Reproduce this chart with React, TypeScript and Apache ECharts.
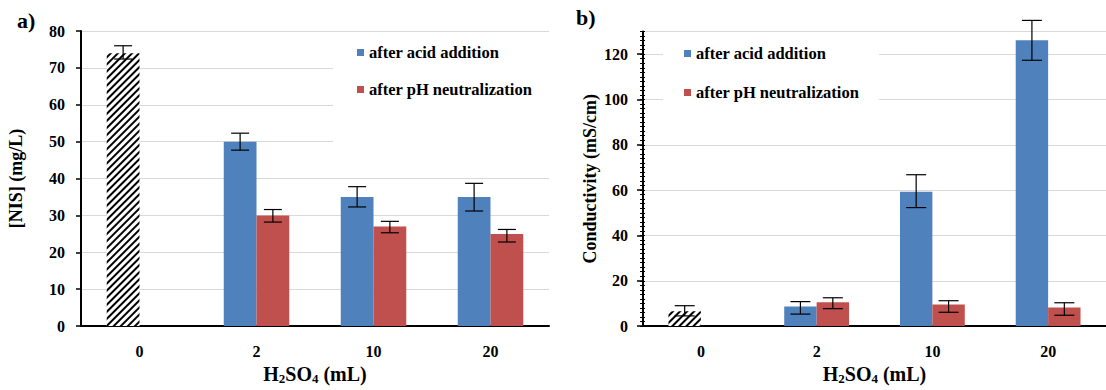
import React, { useEffect, useRef } from "react";
import * as echarts from "echarts";

const categories = ["0", "2", "10", "20"];
const seriesNames = ["after acid addition", "after pH neutralization"];

// Panel a) [NIS] (mg/L)
const nisAcid = [74, 50, 35, 35];
const nisNeutral: (number | null)[] = [null, 30, 27, 25];
const nisAcidErr: [number, number][] = [[72.4, 76.0], [47.7, 52.3], [32.3, 37.8], [31.2, 38.7]];
const nisNeutralErr: ([number, number] | null)[] = [null, [28.2, 31.6], [25.3, 28.4], [22.8, 26.2]];

// Panel b) Conductivity (mS/cm)
const condAcid = [6.5, 8.6, 59.3, 126.1];
const condNeutral: (number | null)[] = [null, 10.5, 9.5, 8.2];
const condAcidErr: [number, number][] = [[4.5, 9.0], [5.3, 10.8], [52.3, 66.8], [117.3, 134.9]];
const condNeutralErr: ([number, number] | null)[] = [null, [7.7, 12.5], [6.1, 11.2], [4.8, 10.3]];

const FONT = "'Liberation Serif', 'Times New Roman', serif";
const BLUE = "#4f81bd";
const RED = "#c0504d";

const hatch = {
  color: "#ffffff",
  decal: {
    symbol: "rect",
    symbolSize: 1,
    color: "#000000",
    dashArrayX: [1, 0],
    dashArrayY: [2, 2.3],
    rotation: -Math.PI / 4,
  },
};

function errData(a: ([number, number] | null)[], b: ([number, number] | null)[]) {
  const out: number[][] = [];
  a.forEach((e, i) => { if (e) out.push([i, e[0], e[1], 0]); });
  b.forEach((e, i) => { if (e) out.push([i, e[0], e[1], 1]); });
  return out;
}

function makeErr(capW: number) {
  return (_params: any, api: any) => {
    const cat = api.value(0);
    const lo = api.value(1);
    const hi = api.value(2);
    const s = api.value(3);
    const band = api.size([1, 0])[0];
    const off = (s === 0 ? -1 : 1) * band * 0.14;
    const pLo = api.coord([cat, lo]);
    const pHi = api.coord([cat, hi]);
    const x = pLo[0] + off;
    const style = { stroke: "#000", lineWidth: 1.2 };
    return {
      type: "group",
      children: [
        { type: "line", shape: { x1: x, y1: pLo[1], x2: x, y2: pHi[1] }, style },
        { type: "line", shape: { x1: x - capW / 2, y1: pHi[1], x2: x + capW / 2, y2: pHi[1] }, style },
        { type: "line", shape: { x1: x - capW / 2, y1: pLo[1], x2: x + capW / 2, y2: pLo[1] }, style },
      ],
    };
  };
}

const subName = "{a|H}{s|2}{a|SO}{s|4}{a| (mL)}";
const nameRich = {
  a: { fontFamily: FONT, fontWeight: "bold", fontSize: 20, color: "#000", lineHeight: 22 },
  s: { fontFamily: FONT, fontWeight: "bold", fontSize: 13, color: "#000", lineHeight: 10, verticalAlign: "bottom" },
};

function xAxis(grid: number) {
  return {
    type: "category",
    gridIndex: grid,
    data: categories,
    axisLine: { lineStyle: { color: "#000", width: 2 } },
    axisTick: { alignWithLabel: true, length: 5, lineStyle: { color: "#000", width: 1.5 } },
    axisLabel: { fontFamily: FONT, fontWeight: "bold", fontSize: 16, color: "#000", margin: 17 },
    name: subName,
    nameLocation: "middle",
    nameGap: 34,
    nameTextStyle: { rich: nameRich },
  };
}

const labelStyle = { fontFamily: FONT, fontWeight: "bold", fontSize: 16, color: "#000" };

export default function App() {
  const ref = useRef<HTMLDivElement>(null);
  useEffect(() => {
    if (!ref.current) return;
    const chart = echarts.init(ref.current, null, { renderer: "svg" });
    const legendText = { fontFamily: FONT, fontWeight: "bold", fontSize: 16.5, color: "#000" };
    chart.setOption({
      animation: false,
      title: [
        { text: "a)", left: 17, top: 9, padding: 0, textStyle: { fontFamily: FONT, fontWeight: "bold", fontSize: 22, color: "#000" } },
        { text: "b)", left: 576, top: 6, padding: 0, textStyle: { fontFamily: FONT, fontWeight: "bold", fontSize: 22, color: "#000" } },
      ],
      legend: [
        {
          data: seriesNames,
          orient: "vertical",
          left: 333,
          top: 32,
          padding: [12, 30, 45, 24],
          itemGap: 20,
          itemWidth: 7,
          itemHeight: 7,
          icon: "rect",
          backgroundColor: "#fff",
          textStyle: legendText,
        },
        {
          data: seriesNames,
          orient: "vertical",
          left: 663,
          top: 35,
          padding: [10, 20, 41, 21],
          itemGap: 22,
          itemWidth: 7,
          itemHeight: 7,
          icon: "rect",
          backgroundColor: "#fff",
          textStyle: legendText,
        },
      ],
      grid: [
        { left: 81, top: 31, width: 468, height: 297, containLabel: false },
        { left: 643, top: 31.5, width: 471, height: 297.5, containLabel: false },
      ],
      xAxis: [xAxis(0), xAxis(1)],
      yAxis: [
        {
          type: "value",
          gridIndex: 0,
          min: 0,
          max: 80,
          interval: 10,
          axisLine: { show: true, lineStyle: { color: "#000", width: 2 } },
          axisTick: { show: true, length: 5, lineStyle: { color: "#000", width: 1.5 } },
          axisLabel: { ...labelStyle, margin: 16 },
          splitLine: { lineStyle: { color: "#d9d9d9", width: 1.2 } },
          name: "[NIS] (mg/L)",
          nameLocation: "middle",
          nameGap: 56,
          nameTextStyle: { fontFamily: FONT, fontWeight: "bold", fontSize: 18, color: "#000" },
        },
        {
          type: "value",
          gridIndex: 1,
          position: "left",
          min: 0,
          max: 130,
          interval: 20,
          axisLine: { show: true, lineStyle: { color: "#000", width: 2 } },
          axisTick: { show: true, length: 6, lineStyle: { color: "#000", width: 1.5 } },
          axisLabel: { ...labelStyle, margin: 15, showMaxLabel: false },
          splitLine: { lineStyle: { color: "#d9d9d9", width: 1.2 } },
          name: "Conductivity (mS/cm)",
          nameLocation: "middle",
          nameGap: 44,
          nameTextStyle: { fontFamily: FONT, fontWeight: "bold", fontSize: 18, color: "#000" },
        },
        {
          type: "value",
          gridIndex: 1,
          position: "left",
          min: 0,
          max: 130,
          interval: 2,
          offset: -2,
          axisLine: { show: false },
          axisTick: { show: true, length: 5, lineStyle: { color: "#000", width: 1 } },
          axisLabel: { show: false },
          splitLine: { show: false },
        },
      ],
      series: [
        {
          type: "bar",
          name: seriesNames[0],
          xAxisIndex: 0,
          yAxisIndex: 0,
          barWidth: "28%",
          barGap: "0%",
          itemStyle: { color: BLUE },
          data: nisAcid.map((v, i) => (i === 0 ? { value: v, itemStyle: hatch } : v)),
        },
        {
          type: "bar",
          name: seriesNames[1],
          xAxisIndex: 0,
          yAxisIndex: 0,
          barWidth: "28%",
          barGap: "0%",
          itemStyle: { color: RED },
          data: nisNeutral,
        },
        {
          type: "bar",
          name: seriesNames[0],
          xAxisIndex: 1,
          yAxisIndex: 1,
          barWidth: "28%",
          barGap: "0%",
          itemStyle: { color: BLUE },
          data: condAcid.map((v, i) => (i === 0 ? { value: v, itemStyle: hatch } : v)),
        },
        {
          type: "bar",
          name: seriesNames[1],
          xAxisIndex: 1,
          yAxisIndex: 1,
          barWidth: "28%",
          barGap: "0%",
          itemStyle: { color: RED },
          data: condNeutral,
        },
        {
          type: "custom",
          xAxisIndex: 0,
          yAxisIndex: 0,
          z: 10,
          clip: false,
          renderItem: makeErr(18),
          encode: { x: 0, y: [1, 2] },
          data: errData(nisAcidErr, nisNeutralErr),
        },
        {
          type: "custom",
          xAxisIndex: 1,
          yAxisIndex: 1,
          z: 10,
          clip: false,
          renderItem: makeErr(20),
          encode: { x: 0, y: [1, 2] },
          data: errData(condAcidErr, condNeutralErr),
        },
      ],
    });
    return () => chart.dispose();
  }, []);
  return (
    <div
      ref={ref}
      style={{ position: "fixed", left: 0, top: 0, width: 1106, height: 390, background: "#fff" }}
    />
  );
}
